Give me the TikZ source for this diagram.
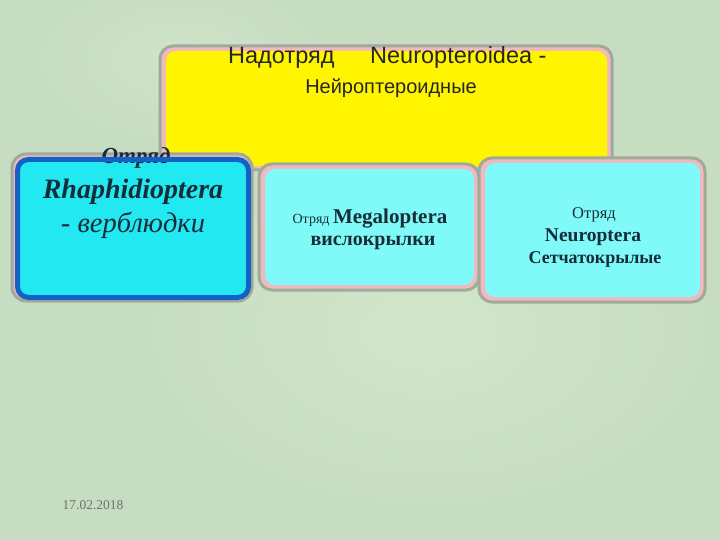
\documentclass[tikz,border=0pt]{standalone}
\usepackage{fontspec}
\setmainfont{Liberation Serif}
\newfontfamily\arialf{Liberation Sans}
\definecolor{bgg}{RGB}{198,221,194}
\definecolor{bgl}{RGB}{214,232,206}
\definecolor{framegray}{RGB}{160,170,155}
\definecolor{pinkb}{RGB}{242,184,192}
\definecolor{yel}{RGB}{255,245,0}
\definecolor{cyanL}{RGB}{128,250,248}
\definecolor{cyanD}{RGB}{34,232,242}
\definecolor{blueb}{RGB}{20,96,196}
\definecolor{txt}{RGB}{22,44,56}
\definecolor{datec}{RGB}{110,115,110}
\begin{document}
\begin{tikzpicture}[x=1pt,y=-1pt,
  outerbox/.style={draw=framegray,line width=3pt,fill=pinkb,rounded corners=13pt},
  innerpink/.style={rounded corners=10pt},
  lbl/.style={inner sep=0pt,text=txt,align=center}]
\useasboundingbox (0,0) rectangle (720,540);
\fill[bgg] (0,0) rectangle (720,540);
\shade[inner color=bgl,outer color=bgg,opacity=0.8] (430,330) ellipse (320 and 200);
\shade[inner color=bgl,outer color=bgg,opacity=0.6] (180,60) ellipse (160 and 90);
% top yellow box
\draw[outerbox] (160,46) rectangle (612,170);
\fill[yel,innerpink] (166,51) rectangle (607,166);
\node[lbl,text=black!85,font=\arialf\fontsize{23.5}{26}\selectfont,anchor=base west] (supa) at (228,64) {Надотряд};
\node[lbl,text=black!85,font=\arialf\fontsize{23.5}{26}\selectfont,anchor=base west] (supn) at (370,64) {Neuropteroidea -};
\node[lbl,text=black!85,font=\arialf\fontsize{20}{22}\selectfont,anchor=base] (supb) at (391,94) {Нейроптероидные};
% middle box
\draw[outerbox] (259,164) rectangle (479,290);
\fill[cyanL,innerpink] (265,169) rectangle (474,285);
\node[lbl] (mega) at (370,219) {\fontsize{14}{16}\selectfont Отряд \fontsize{21}{24}\selectfont\bfseries Megaloptera};
\node[lbl,font=\fontsize{20}{22}\selectfont\bfseries] (visl) at (373,243) {вислокрылки};
% right box
\draw[outerbox] (479,158) rectangle (705,302);
\fill[cyanL,innerpink] (485,163) rectangle (700,297);
\node[lbl,font=\fontsize{16.5}{18}\selectfont] (neuro) at (594,215) {Отряд};
\node[lbl,font=\fontsize{19.5}{22}\selectfont\bfseries] (neurn) at (593,237) {Neuroptera};
\node[lbl,font=\fontsize{18}{20}\selectfont\bfseries] (neurs) at (595,259) {Сетчатокрылые};
% left box
\draw[framegray,line width=3pt,rounded corners=14pt,fill=pinkb] (12,154) rectangle (252,301);
\fill[cyanD,rounded corners=11pt] (17,159) rectangle (249,298);
\node[lbl,font=\fontsize{23}{25}\selectfont\bfseries\itshape] (otr) at (136,158) {Отряд};
\draw[blueb,line width=5pt,rounded corners=11pt] (17.5,159.5) rectangle (248.5,297.5);
\node[lbl,font=\fontsize{28}{30}\selectfont\bfseries\itshape] (rhap) at (133,192) {Rhaphidioptera};
\node[lbl,font=\fontsize{28.5}{30}\selectfont\itshape] (verb) at (133,225) {- верблюдки};
% date
\node[inner sep=0pt,text=datec,font=\fontsize{13.5}{15}\selectfont] (date) at (93,505) {17.02.2018};
\end{tikzpicture}
\end{document}
